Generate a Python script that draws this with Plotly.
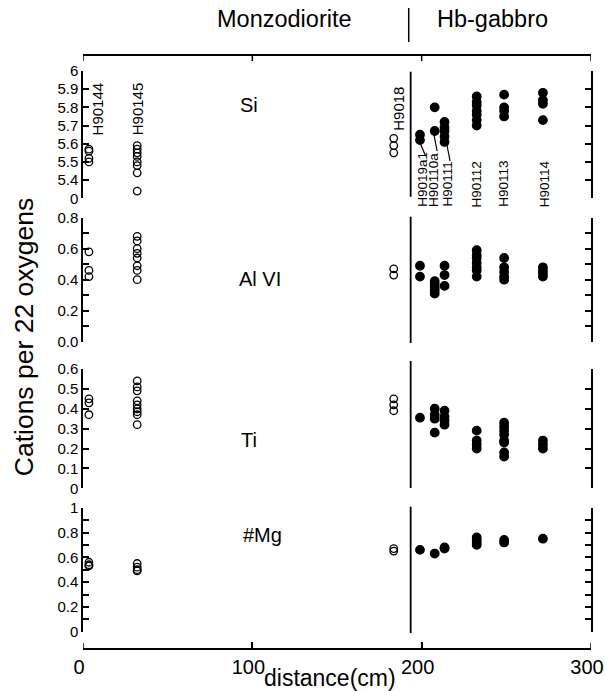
import plotly.graph_objects as go

# ---------------- data ----------------
samples = ["H90144", "H90145", "H9018", "H9019a1", "H90110a", "H90111", "H90112", "H90113", "H90114"]
distance_cm = [3.5, 32.0, 183.5, 199.0, 207.7, 213.5, 232.5, 248.7, 271.6]
is_gabbro = [False, False, False, True, True, True, True, True, True]
boundary_cm = 193.5

si_values = [
    [5.57, 5.56, 5.52, 5.50],
    [5.59, 5.57, 5.55, 5.53, 5.50, 5.48, 5.44, 5.34],
    [5.63, 5.59, 5.55],
    [5.65, 5.62],
    [5.80, 5.67],
    [5.72, 5.69, 5.67, 5.64, 5.61],
    [5.86, 5.83, 5.81, 5.78, 5.76, 5.73, 5.70],
    [5.87, 5.80, 5.78, 5.75],
    [5.88, 5.84, 5.82, 5.73],
]
alvi_values = [
    [0.58, 0.46, 0.42],
    [0.68, 0.65, 0.60, 0.57, 0.54, 0.49, 0.46, 0.40],
    [0.47, 0.43],
    [0.49, 0.42],
    [0.39, 0.37, 0.35, 0.33, 0.31],
    [0.49, 0.43, 0.36],
    [0.59, 0.56, 0.54, 0.51, 0.48, 0.46, 0.42],
    [0.54, 0.48, 0.45, 0.42, 0.40],
    [0.48, 0.46, 0.44, 0.42],
]
ti_values = [
    [0.45, 0.43, 0.37],
    [0.54, 0.51, 0.49, 0.44, 0.42, 0.40, 0.385, 0.37, 0.32],
    [0.45, 0.42, 0.39],
    [0.355],
    [0.40, 0.37, 0.35, 0.28],
    [0.39, 0.36, 0.34, 0.32],
    [0.29, 0.24, 0.22, 0.20],
    [0.33, 0.31, 0.29, 0.27, 0.24, 0.23, 0.18, 0.16],
    [0.24, 0.22, 0.20],
]
mg_values = [
    [0.56, 0.54, 0.53],
    [0.55, 0.52, 0.50, 0.49],
    [0.67, 0.65],
    [0.66],
    [0.63],
    [0.68, 0.67],
    [0.76, 0.74, 0.72, 0.70],
    [0.74, 0.72],
    [0.75],
]

panel_names = ["Si", "Al VI", "Ti", "#Mg"]
panel_values = [si_values, alvi_values, ti_values, mg_values]

si_tickvals = [5.3, 5.4, 5.5, 5.6, 5.7, 5.8, 5.9, 6.0]
si_ticktext = ["0", "5.4", "5.5", "5.6", "5.7", "5.8", "5.9", "6"]
al_tickvals = [0.0, 0.1, 0.2, 0.3, 0.4, 0.5, 0.6, 0.7, 0.8]
al_ticktext = ["0.0", "", "0.2", "", "0.4", "", "0.6", "", "0.8"]
ti_tickvals = [0.0, 0.1, 0.2, 0.3, 0.4, 0.5, 0.6]
ti_ticktext = ["0", "0.1", "0.2", "0.3", "0.4", "0.5", "0.6"]
mg_tickvals = [0.0, 0.1, 0.2, 0.3, 0.4, 0.5, 0.6, 0.7, 0.8, 0.9, 1.0]
mg_ticktext = ["0", "", "0.2", "", "0.4", "", "0.6", "", "0.8", "", "1"]
x_tickvals = [0, 100, 200, 300]

# ---------------- layout helpers (pixel -> paper) ----------------
W, H = 605, 691
L, R, T, B = 83, 593, 54, 649


def PX(px):
    return (px - L) / (R - L)


def PY(py):
    return (B - py) / (B - T)


FONT = "Liberation Sans, Arial, sans-serif"
fig = go.Figure()

for i, vals in enumerate(panel_values):
    yname = "y" if i == 0 else f"y{i + 1}"
    for gab in (False, True):
        xs, ys = [], []
        for d, g, v in zip(distance_cm, is_gabbro, vals):
            if g == gab:
                xs += [d] * len(v)
                ys += v
        fig.add_trace(go.Scatter(
            x=xs, y=ys, xaxis="x", yaxis=yname, mode="markers",
            marker=dict(
                symbol="circle" if gab else "circle-open",
                size=8.5 if gab else 7.5,
                color="black",
                line=dict(color="black", width=1.3),
            ),
            showlegend=False, hoverinfo="skip", cliponaxis=False,
        ))

yaxis_common = dict(
    showgrid=False, zeroline=False, showline=True, linecolor="black", linewidth=1.5,
    ticks="inside", ticklen=6, tickwidth=1.5, tickcolor="black", mirror="ticks",
    tickfont=dict(family=FONT, size=15, color="black"), anchor="x",
)
domains = [
    (PY(198.3), PY(71)),
    (PY(341.7), PY(217.7)),
    (PY(488.3), PY(369)),
    (PY(631.7), PY(507.7)),
]
ranges = [[5.3, 6.0], [0, 0.8], [0, 0.6], [0, 1.0]]
tvs = [si_tickvals, al_tickvals, ti_tickvals, mg_tickvals]
tts = [si_ticktext, al_ticktext, ti_ticktext, mg_ticktext]

layout = dict(
    width=W, height=H,
    margin=dict(l=L, r=W - R, t=T, b=H - B, pad=0),
    paper_bgcolor="white", plot_bgcolor="white",
    showlegend=False,
    xaxis=dict(
        range=[0, 300], domain=[0, 1], anchor="free", position=0, side="bottom",
        showgrid=False, zeroline=False, showline=True, linecolor="black", linewidth=1.5,
        ticks="inside", ticklen=6, tickwidth=1.5, tickcolor="black", mirror="ticks",
        tickvals=x_tickvals, tickfont=dict(family=FONT, size=20, color="black"),
        ticklabelshift=-4, ticklabeloverflow="allow", automargin=False,
    ),
)
for i in range(4):
    key = "yaxis" if i == 0 else f"yaxis{i + 1}"
    layout[key] = dict(yaxis_common, domain=list(domains[i]), range=ranges[i],
                       tickvals=tvs[i], ticktext=tts[i])
fig.update_layout(**layout)

annotations = []


def txt(text, px, py, size, angle=0, xa="center", ya="middle"):
    annotations.append(dict(
        text=text, x=PX(px), y=PY(py), xref="paper", yref="paper",
        xanchor=xa, yanchor=ya, showarrow=False, textangle=angle,
        font=dict(family=FONT, size=size, color="black"),
    ))


# header
txt("Monzodiorite", 285, 19, 23.5)
txt("Hb-gabbro", 494, 19, 23.5)
# panel labels
txt("Si", 250, 105, 20)
txt("Al VI", 261, 279, 20)
txt("Ti", 250, 440, 20)
txt("#Mg", 263, 535, 20)
# axis titles
txt("distance(cm)", 331, 678, 23)
txt("Cations per 22 oxygens", 24, 337, 26.5, angle=-90)
# sample labels
txt("H90144", 98, 137, 15, angle=-90, ya="bottom")
txt("H90145", 138, 137, 15, angle=-90, ya="bottom")
txt("H9018", 399, 133, 15, angle=-90, ya="bottom")
for name, xpx in zip(["H9019a1", "H90110a", "H90111", "H90112", "H90113", "H90114"],
                     [423.5, 435.5, 448.5, 479, 505.5, 546.5]):
    txt(name, xpx, 209, 13.5, angle=-90, ya="bottom")

fig.update_layout(annotations=annotations)

shapes = []
# distance-axis frame lines (top and bottom) and their tick marks
for ypx, d in [(55, 1), (649, -1)]:
    shapes.append(dict(type="line", xref="x", yref="paper", x0=0, x1=300, layer="above",
                       y0=PY(ypx), y1=PY(ypx), line=dict(color="black", width=2)))
    for tv in x_tickvals:
        shapes.append(dict(type="line", xref="x", yref="paper", x0=tv, x1=tv, layer="above",
                           y0=PY(ypx), y1=PY(ypx + 6 * d), line=dict(color="black", width=1.5)))
# header separator
shapes.append(dict(type="line", xref="paper", yref="paper", x0=PX(410), x1=PX(410),
                   y0=PY(8), y1=PY(42), line=dict(color="black", width=1.5)))
# boundary lines per panel
for top, bot in [(71.7, 196.7), (216.7, 343), (361, 488), (506.7, 633)]:
    shapes.append(dict(type="line", xref="x", yref="paper", x0=boundary_cm, x1=boundary_cm,
                       y0=PY(bot), y1=PY(top), line=dict(color="black", width=1.8)))
# leader lines for crowded labels
for (x0, y0, x1, y1) in [(421, 142, 427, 156), (435, 133, 438.5, 151), (448, 143, 451.5, 161)]:
    shapes.append(dict(type="line", xref="paper", yref="paper", x0=PX(x0), y0=PY(y0),
                       x1=PX(x1), y1=PY(y1), line=dict(color="black", width=1.2)))
fig.update_layout(shapes=shapes)

fig.write_html(
    "out.html",
    config={"displayModeBar": False},
    post_script="document.body.style.margin='0';document.body.style.overflow='hidden';",
)
